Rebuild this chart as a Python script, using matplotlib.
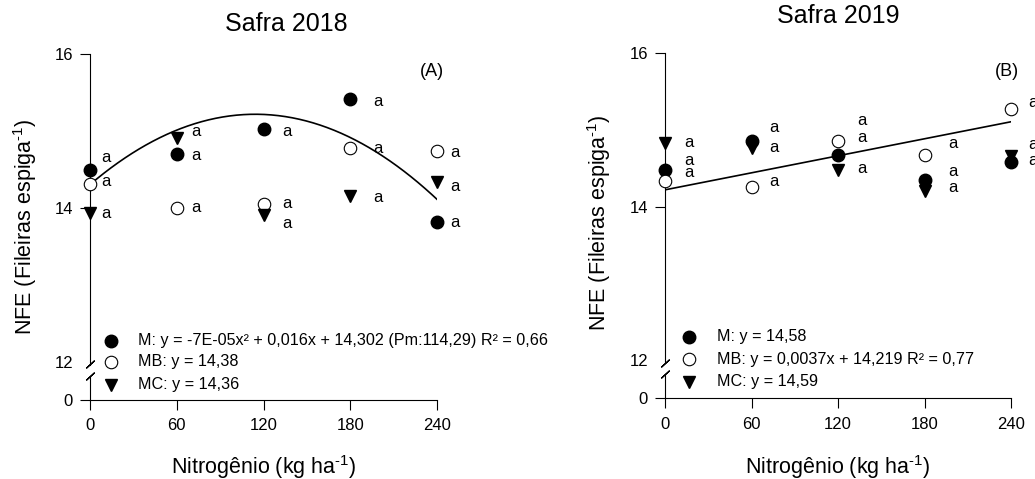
import numpy as np
import matplotlib
matplotlib.use("Agg")
import matplotlib.pyplot as plt

plt.rcParams['font.family'] = ['Liberation Sans', 'DejaVu Sans']
plt.rcParams['mathtext.fontset'] = 'custom'
plt.rcParams['mathtext.rm'] = 'Liberation Sans'
plt.rcParams['mathtext.default'] = 'regular'

# ---------------- data ----------------
nitrogen = [0, 60, 120, 180, 240]
xticks = [0, 60, 120, 180, 240]
yticks = [0, 12, 14, 16]

# Safra 2018
m_2018 = [14.49, 14.70, 15.03, 15.41, 13.82]
mb_2018 = [14.31, 14.00, 14.05, 14.78, 14.74]
mc_2018 = [13.93, 14.91, 13.90, 14.15, 14.33]

# Safra 2019
m_2019 = [14.48, 14.85, 14.67, 14.35, 14.58]
mb_2019 = [14.34, 14.25, 14.85, 14.67, 15.27]
mc_2019 = [14.83, 14.76, 14.48, 14.20, 14.66]

# fitted models
m_2018_quad = (-7e-05, 0.016, 14.302)
mb_2019_lin = (0.0037, 14.219)

legend_2018 = ["M: y = -7E-05x² + 0,016x + 14,302 (Pm:114,29) R² = 0,66",
               "MB: y = 14,38",
               "MC: y = 14,36"]
legend_2019 = ["M: y = 14,58",
               "MB: y = 0,0037x + 14,219 R² = 0,77",
               "MC: y = 14,59"]

# mean-comparison letters
letters_m_2018 = ["a", "a", "a", "a", "a"]
letters_mb_2018 = ["a", "a", "a", "a", "a"]
letters_mc_2018 = ["a", "a", "a", "a", "a"]
letters_m_2019 = ["a", "a", "a", "a", "a"]
letters_mb_2019 = ["a", "a", "a", "a", "a"]
letters_mc_2019 = ["a", "a", "a", "a", "a"]

# letter offsets from their marker, in pixels (dx, dy up)
off_m_2018 = [(16, 12.6), (19, -1.7), (23.4, -2.7), (27.3, -2.7), (18.3, -1)]
off_mb_2018 = [(16, 2.3), (19, 0), (23.4, 0), (27.3, -0.4), (18.3, -1.7)]
off_mc_2018 = [(16, -0.3), (19, 6.3), (23.4, -8.7), (27.3, -1), (18.3, -4)]
off_m_2019 = [(24, 9), (22.7, 14), (24, 18), (28, 8.3), (22, 1.4)]
off_mb_2019 = [(24, 7.6), (22.7, 5.7), (24, 20.7), (28, 11.3), (22, 6.3)]
off_mc_2019 = [(24, 0), (22.7, 0.6), (24, 1.6), (28, 3.3), (22, 11.8)]

W, H = 1035, 479
fig = plt.figure(figsize=(W / 100, H / 100), dpi=100)


def fx(px):
    return px / W


def fy(py):
    return 1 - py / H


# broken y axis: 0..12 squeezed into half a unit below 12
SQ = 0.5


def fwd(v):
    v = np.asarray(v, dtype=float)
    return np.where(v >= 12, v, 12 - (12 - v) * SQ / 12)


def inv(u):
    u = np.asarray(u, dtype=float)
    return np.where(u >= 12, u, 12 - (12 - u) * 12 / SQ)


def setup_axes(rect):
    ax = fig.add_axes(rect)
    ax.set_yscale('function', functions=(fwd, inv))
    ax.set_xlim(0, 240)
    ax.set_ylim(0, 16)
    ax.set_xticks(xticks)
    ax.set_yticks(yticks)
    ax.set_yticklabels([str(t) for t in yticks])
    ax.yaxis.set_minor_locator(matplotlib.ticker.NullLocator())
    for s in ('top', 'right'):
        ax.spines[s].set_visible(False)
    for s in ('left', 'bottom'):
        ax.spines[s].set_linewidth(0.8)
    ax.spines['left'].set_bounds(11.0, 16)
    ax.plot([0, 0], [0, 7.5], color='black', lw=0.8, clip_on=False)
    ax.tick_params(axis='both', direction='out', length=7.2, width=0.8,
                   labelsize=12)
    ax.tick_params(axis='y', pad=5)
    ax.tick_params(axis='x', pad=6)
    ax.yaxis.get_major_ticks()[1].tick1line.set_visible(False)
    # axis break marks
    ax.plot([0, 0], [11.1, 7.55], linestyle='none', marker=(2, 2, -47.5),
            markersize=8.1, markeredgewidth=0.9, color='black', clip_on=False)
    return ax


def draw_series(ax, y, style, letters, offs):
    if style == 'M':
        kw = dict(marker='o', mfc='black', mec='black')
    elif style == 'MB':
        kw = dict(marker='o', mfc='white', mec='black', mew=0.8)
    else:
        kw = dict(marker='v', mfc='black', mec='black')
    ax.plot(nitrogen, y, linestyle='none', markersize=9, clip_on=False,
            zorder=3, **kw)
    for xv, yv, lt, (dx, dy) in zip(nitrogen, y, letters, offs):
        ax.annotate(lt, (xv, yv), xytext=(dx, dy - 4.3),
                    textcoords='offset pixels', ha='center', va='baseline',
                    fontsize=12, annotation_clip=False)


def draw_legend(marker_x, text_x, ys, texts):
    styles = [dict(marker='o', mfc='black', mec='black'),
              dict(marker='o', mfc='white', mec='black', mew=0.8),
              dict(marker='v', mfc='black', mec='black')]
    for py, txt, st in zip(ys, texts, styles):
        fig.add_artist(matplotlib.lines.Line2D([fx(marker_x)], [fy(py)],
                                               markersize=9, linestyle='none',
                                               transform=fig.transFigure, **st))
        fig.text(fx(text_x), fy(py), txt, ha='left', va='center', fontsize=11.6)


sup = "$^{\u20101}$"
ylabel = "NFE (Fileiras espiga" + sup + ")"
xlabel = "Nitrogênio (kg ha" + sup + ")"

# ---------------- Safra 2018 ----------------
ax1 = setup_axes([fx(90), fy(400), fx(437) - fx(90), fy(54) - fy(400)])
xs = np.linspace(0, 240, 200)
a2, a1, a0 = m_2018_quad
ax1.plot(xs, a2 * xs ** 2 + a1 * xs + a0, color='black', lw=1.2, zorder=2)
draw_series(ax1, m_2018, 'M', letters_m_2018, off_m_2018)
draw_series(ax1, mb_2018, 'MB', letters_mb_2018, off_mb_2018)
draw_series(ax1, mc_2018, 'MC', letters_mc_2018, off_mc_2018)
fig.text(fx(432), fy(71), "(A)", ha='center', va='center', fontsize=13)
fig.text(fx(286), fy(24), "Safra 2018", ha='center', va='center', fontsize=18)
fig.text(fx(25), fy(227), ylabel, rotation=90,
         ha='center', va='center', fontsize=15.5)
fig.text(fx(264), fy(467), xlabel, ha='center', va='center', fontsize=15.5)
draw_legend(110.5, 138.3, [341, 361.7, 385], legend_2018)

# ---------------- Safra 2019 ----------------
ax2 = setup_axes([fx(665), fy(398.3), fx(1011) - fx(665), fy(53.3) - fy(398.3)])
b1, b0 = mb_2019_lin
ax2.plot(xs, b1 * xs + b0, color='black', lw=1.2, zorder=2)
draw_series(ax2, m_2019, 'M', letters_m_2019, off_m_2019)
draw_series(ax2, mb_2019, 'MB', letters_mb_2019, off_mb_2019)
draw_series(ax2, mc_2019, 'MC', letters_mc_2019, off_mc_2019)
fig.text(fx(1007), fy(71), "(B)", ha='center', va='center', fontsize=13)
fig.text(fx(838), fy(16), "Safra 2019", ha='center', va='center', fontsize=18)
fig.text(fx(599), fy(223), ylabel, rotation=90,
         ha='center', va='center', fontsize=15.5)
fig.text(fx(838), fy(467), xlabel, ha='center', va='center', fontsize=15.5)
draw_legend(688.5, 716.7, [336.7, 359.3, 381.7], legend_2019)

fig.savefig("out.png", dpi=100)
